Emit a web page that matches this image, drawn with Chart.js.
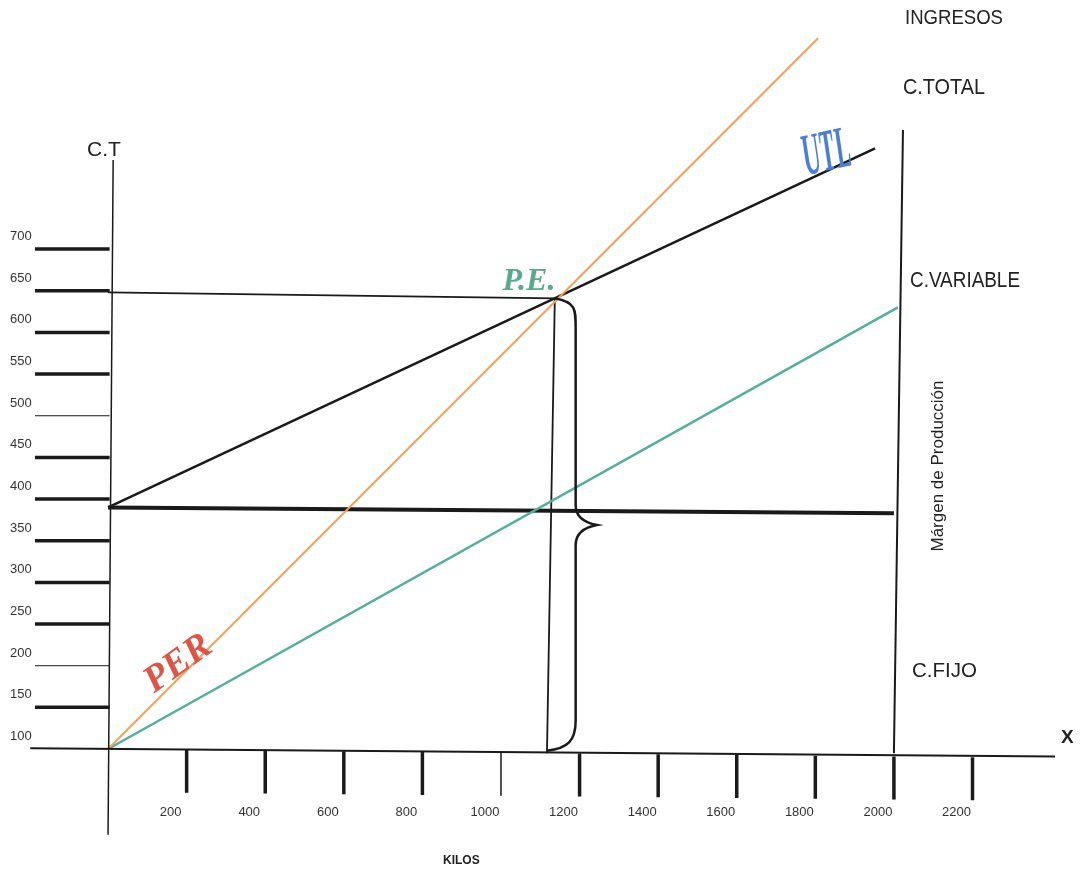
<!DOCTYPE html>
<html>
<head>
<meta charset="utf-8">
<script src="https://cdn.jsdelivr.net/npm/chart.js@4.4.1/dist/chart.umd.min.js"></script>
<style>
  html, body { margin: 0; padding: 0; background: #ffffff; }
  canvas { display: block; }
</style>
</head>
<body>
<canvas id="pe" width="1090" height="874"></canvas>
<script>
// tick values
const yTicks = [100, 150, 200, 250, 300, 350, 400, 450, 500, 550, 600, 650, 700];
const yThinTicks = [200, 500];
const xTicks = [200, 400, 600, 800, 1000, 1200, 1400, 1600, 1800, 2000, 2200];
const xThinTicks = [1000];

// lines (kilos, costo)
const ingresosX = [0, 1807];
const ingresosY = [100, 953];
const variableX = [0, 2010];
const variableY = [100, 630];
const totalX = [0, 1952];
const totalY = [390, 821];
const fijoX = [0, 2000];
const fijoY = [390, 383];

// punto de equilibrio
const peX = [1137];
const peY = [641];
const peGuideX = [0, 1137, 1117];
const peGuideY = [648, 641, 95];
const margenX = [2023, 2000];
const margenY = [843, 95];

// hand drawn axes
const xAxisX = [-198, 2410];
const xAxisY = [101, 91];
const yAxisX = [13, 0];
const yAxisY = [807, -3];

const pts = (xs, ys) => xs.map((x, i) => ({ x, y: ys[i] }));

function line(label, xs, ys, color, width) {
    return {
        label,
        data: pts(xs, ys),
        showLine: true,
        borderColor: color,
        borderWidth: width,
        pointRadius: 0,
        fill: false,
    };
}

function drawText(ctx, text, x, y, font, color, opts = {}) {
    ctx.save();
    ctx.translate(x, y);
    if (opts.rotate) {
        ctx.rotate(opts.rotate);
    }
    if (opts.stretch) {
        ctx.scale(1, opts.stretch);
    }
    ctx.font = font;
    ctx.fillStyle = color;
    ctx.textAlign = opts.align || "left";
    ctx.textBaseline = opts.baseline || "alphabetic";
    if (opts.maxWidth) {
        ctx.fillText(text, 0, 0, opts.maxWidth);
    } else {
        ctx.fillText(text, 0, 0);
    }
    ctx.restore();
}

const sketchPlugin = {
    id: "sketch",
    afterDatasetsDraw(chart) {
        const { ctx } = chart;
        const sx = chart.scales.x;
        const sy = chart.scales.y;
        const px = (v) => sx.getPixelForValue(v);
        const py = (v) => sy.getPixelForValue(v);
        const font = "Liberation Sans, Arial, sans-serif";

        ctx.save();
        ctx.strokeStyle = "#1a1a1a";
        ctx.lineCap = "butt";

        // axes
        ctx.lineWidth = 2;
        ctx.beginPath();
        ctx.moveTo(px(xAxisX[0]), py(xAxisY[0]));
        ctx.lineTo(px(xAxisX[1]), py(xAxisY[1]));
        ctx.stroke();
        ctx.lineWidth = 1.5;
        ctx.beginPath();
        ctx.moveTo(px(yAxisX[0]), py(yAxisY[0]));
        ctx.lineTo(px(yAxisX[1]), py(yAxisY[1]));
        ctx.stroke();

        // y ticks to the left of the axis
        yTicks.forEach((v) => {
            const y = py(v);
            if (v > yTicks[0]) {
                ctx.lineWidth = yThinTicks.includes(v) ? 1 : 3.5;
                ctx.beginPath();
                ctx.moveTo(px(-186), y);
                ctx.lineTo(px(4), y);
                ctx.stroke();
            }
            drawText(ctx, String(v), 10, y - 9, "13px " + font, "#333", { maxWidth: 22 });
        });

        // x ticks below the axis
        xTicks.forEach((v) => {
            const x = px(v);
            const y0 = py(100 - v * 0.0045);
            ctx.lineWidth = xThinTicks.includes(v) ? 1.5 : 3.5;
            ctx.beginPath();
            ctx.moveTo(x, y0);
            ctx.lineTo(x, y0 + 43);
            ctx.stroke();
            const s = String(v);
            drawText(ctx, s, x - 16, py(20), "13px " + font, "#333",
                { align: "center", maxWidth: s.length * 7.3 });
        });

        // brace on the right of the P.E. vertical
        const bx = px(1190), tip = px(1244);
        const top = py(peY[0]), mid = py(369), bot = py(98);
        const x0 = px(peX[0]), x1 = px(1117);
        ctx.lineWidth = 2.5;
        ctx.beginPath();
        ctx.moveTo(x0, top);
        ctx.bezierCurveTo(bx, top + 4, bx, top + 10, bx, top + 30);
        ctx.lineTo(bx, mid - 20);
        ctx.quadraticCurveTo(bx, mid - 4, tip, mid);
        ctx.quadraticCurveTo(bx, mid + 4, bx, mid + 20);
        ctx.lineTo(bx, bot - 30);
        ctx.bezierCurveTo(bx, bot - 10, bx - 8, bot - 2, x1, bot);
        ctx.stroke();

        // texts
        drawText(ctx, "C.T", 87, 156, "21px " + font, "#222");
        drawText(ctx, "INGRESOS", 905, 24, "21px " + font, "#222", { maxWidth: 98 });
        drawText(ctx, "C.TOTAL", 903, 94, "22px " + font, "#222", { maxWidth: 82 });
        drawText(ctx, "C.VARIABLE", 910, 287, "22px " + font, "#222", { maxWidth: 110 });
        drawText(ctx, "C.FIJO", 912, 677, "21px " + font, "#222", { maxWidth: 65 });
        drawText(ctx, "X", 1061, 743, "bold 19px " + font, "#222");
        drawText(ctx, "KILOS", 443, 864, "bold 12px " + font, "#222", { maxWidth: 37 });
        drawText(ctx, "Márgen de Producción", 943, 466, "17px " + font, "#222",
            { rotate: -Math.PI / 2, align: "center", maxWidth: 187 });

        const serif = "Liberation Serif, Times New Roman, serif";
        drawText(ctx, "P.E.", 529, 290, "bold italic 32px " + serif, "#5aa98d",
            { align: "center", maxWidth: 60 });
        drawText(ctx, "UTL", 830, 170, "bold italic 44px " + serif, "#4a7fd6",
            { align: "center", maxWidth: 48, rotate: -0.22, stretch: 1.35 });
        drawText(ctx, "PER", 184, 672, "bold italic 38px " + serif, "#de5548",
            { align: "center", maxWidth: 76, rotate: -0.62 });

        ctx.restore();
    },
};

new Chart(document.getElementById("pe"), {
    type: "scatter",
    data: {
        datasets: [
            line("Ingresos", ingresosX, ingresosY, "#f2a05e", 2),
            line("C. Variable", variableX, variableY, "#52b09a", 2.5),
            line("C. Fijo", fijoX, fijoY, "#1a1a1a", 4),
            line("C. Total", totalX, totalY, "#1a1a1a", 2.5),
            line("P.E.", peGuideX, peGuideY, "#1a1a1a", 1.8),
            line("Margen", margenX, margenY, "#1a1a1a", 2),
        ],
    },
    plugins: [sketchPlugin],
    options: {
        responsive: false,
        animation: false,
        layout: { padding: 0 },
        scales: {
            x: { type: "linear", min: -275, max: 2499, display: false },
            y: { type: "linear", min: -50, max: 999, display: false },
        },
        plugins: {
            legend: { display: false },
            tooltip: { enabled: false },
        },
    },
});
</script>
</body>
</html>
